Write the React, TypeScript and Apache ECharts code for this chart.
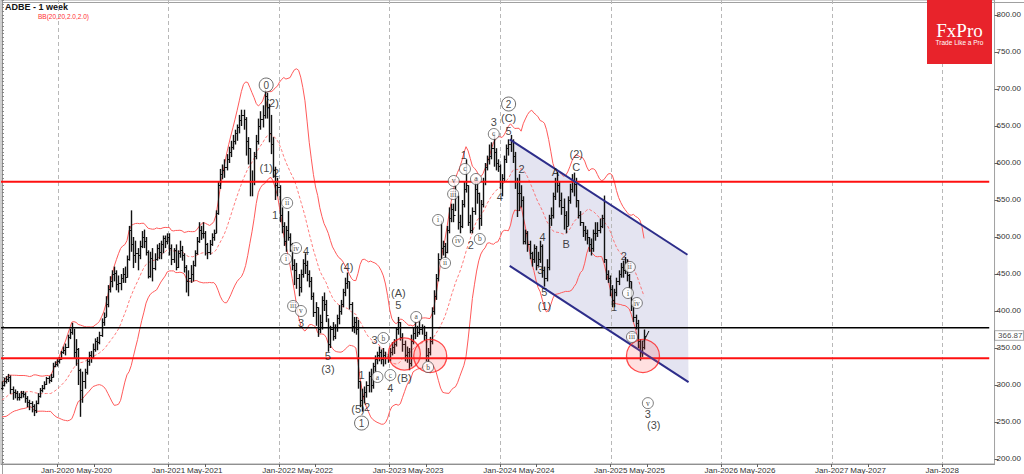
import React, { useEffect, useRef } from "react";
import * as echarts from "echarts";

// ---------- data ----------
const firstBarDate = Date.UTC(2019, 6, 1); // Monday of first weekly bar
const firstOpen = 296;
// closes of the 19 weeks before the first visible bar (only used for the BB(20) warm-up)
const warmupCloses = [265, 268, 262, 270, 272, 275, 278, 276, 280, 283, 278, 272, 270, 276, 285, 290, 296, 300, 298];

// weekly bars: [close, high, low]
const bars2019: number[][] = [
  [300, 305, 293], [306, 310, 298], [308, 312, 302], [311, 315, 304], [295, 313, 288], [290, 298, 280], [289, 294, 282],
  [284, 292, 279], [284, 289, 279], [289, 292, 282], [288, 292, 283], [282, 290, 276], [277, 285, 270], [276, 280, 266],
  [271, 278, 263], [266, 274, 258], [276, 279, 262], [285, 289, 274], [293, 296, 283], [296, 300, 290], [302, 305, 294],
  [309, 311, 300], [307, 312, 302], [311, 315, 304], [326, 330, 310], [329, 332, 324], [332, 335, 325],
];
const bars2020: number[][] = [
  [335, 338, 329], [344, 346, 334], [347, 352, 342], [351, 356, 340], [365, 368, 350], [372, 376, 362], [378, 384, 368],
  [345, 376, 336], [348, 362, 326], [320, 350, 300], [293, 322, 257], [305, 318, 276], [318, 322, 295], [332, 336, 314],
  [340, 345, 326], [338, 346, 330], [348, 356, 336], [360, 363, 345], [358, 365, 347], [368, 372, 355], [385, 390, 365],
  [392, 398, 380], [410, 420, 392], [430, 435, 405], [440, 447, 425], [450, 455, 432], [452, 460, 440], [436, 455, 428],
  [438, 448, 425], [445, 450, 428], [450, 458, 438], [446, 460, 438], [470, 475, 445], [510, 515, 468], [490, 536, 480],
  [475, 500, 458], [478, 495, 465], [475, 485, 455], [488, 495, 470], [500, 508, 485], [495, 510, 485], [480, 500, 475],
  [447, 482, 444], [472, 480, 445], [458, 485, 440], [470, 478, 455], [485, 490, 468], [480, 492, 470], [490, 495, 470],
  [498, 502, 478], [495, 502, 485], [500, 505, 490],
];
const bars2021: number[][] = [
  [485, 505, 475], [470, 490, 462], [482, 485, 465], [460, 490, 455], [478, 482, 458], [482, 495, 472], [475, 488, 468],
  [460, 478, 452], [440, 462, 425], [445, 455, 420], [450, 462, 438], [462, 468, 440], [478, 482, 460], [495, 500, 476],
  [510, 520, 492], [505, 515, 496], [505, 520, 498], [490, 508, 475], [480, 492, 470], [490, 496, 476], [500, 505, 488],
  [505, 510, 495], [532, 536, 505], [570, 575, 530], [585, 592, 565], [590, 598, 578], [595, 605, 580], [605, 612, 590],
  [615, 622, 600], [622, 630, 608], [630, 638, 618], [640, 645, 625], [648, 652, 630], [658, 665, 640], [665, 672, 650],
  [660, 672, 645], [630, 662, 610], [620, 635, 598], [575, 620, 555], [575, 590, 555], [610, 615, 570], [630, 638, 605],
  [650, 660, 625], [660, 670, 645], [665, 678, 648], [690, 699, 660], [675, 695, 660], [640, 680, 628], [625, 665, 612],
  [590, 635, 580], [570, 595, 550], [568, 580, 555],
];
const bars2022: number[][] = [
  [530, 570, 520], [515, 540, 505], [495, 520, 488], [510, 515, 480], [500, 535, 495], [490, 505, 480], [462, 492, 455],
  [455, 470, 435], [445, 465, 430], [432, 450, 420], [450, 456, 425], [465, 470, 445], [462, 478, 450], [450, 468, 440],
  [440, 455, 432], [420, 446, 415], [398, 425, 392], [405, 412, 380], [375, 405, 365], [385, 395, 370], [415, 420, 375],
  [410, 425, 400], [395, 415, 385], [355, 390, 345], [375, 380, 350], [366, 385, 360], [378, 382, 362], [390, 395, 372],
  [400, 408, 382], [410, 415, 395], [425, 430, 405], [438, 445, 420], [440, 452, 430], [410, 440, 402], [380, 412, 372],
  [385, 392, 370], [375, 392, 368], [305, 388, 295], [280, 305, 270], [285, 295, 264], [290, 298, 275], [300, 305, 283],
  [312, 318, 290], [300, 322, 290], [325, 330, 295], [335, 340, 318], [340, 345, 328], [345, 352, 332], [335, 348, 328],
  [340, 350, 325], [336, 345, 328], [338, 342, 330],
];
const bars2023: number[][] = [
  [345, 350, 332], [352, 358, 340], [355, 362, 342], [375, 378, 352], [385, 392, 368], [365, 385, 360], [355, 370, 345],
  [340, 360, 332], [345, 352, 330], [330, 350, 320], [360, 368, 325], [370, 378, 355], [378, 385, 362], [372, 380, 365],
  [375, 388, 368], [378, 382, 368], [368, 380, 360], [340, 372, 332], [345, 350, 331], [360, 365, 340], [400, 405, 355],
  [420, 428, 395], [445, 450, 415], [470, 478, 440], [485, 522, 470], [488, 495, 475], [480, 492, 472], [510, 515, 478],
  [525, 540, 505], [538, 545, 520], [530, 545, 520], [555, 570, 535], [520, 556, 510], [515, 530, 505], [545, 550, 512],
  [565, 575, 540], [570, 605, 560], [520, 570, 515], [510, 530, 505], [535, 540, 505], [565, 575, 530], [560, 580, 545],
  [525, 560, 510], [545, 550, 515], [575, 580, 540], [595, 600, 570], [605, 610, 590], [610, 625, 598], [620, 628, 605],
  [615, 640, 595], [600, 620, 590], [596, 605, 588],
];
const bars2024: number[][] = [
  [575, 598, 565], [580, 585, 555], [605, 610, 575], [620, 625, 600], [625, 632, 610], [630, 638, 615], [610, 632, 600],
  [575, 615, 565], [560, 580, 527], [560, 585, 535], [550, 570, 540], [495, 555, 490], [505, 510, 490], [490, 508, 480],
  [478, 495, 470], [470, 480, 460], [485, 490, 465], [462, 488, 455], [470, 480, 460], [488, 495, 465], [455, 490, 445],
  [445, 460, 433], [460, 470, 440], [525, 530, 455], [530, 540, 515], [555, 560, 525], [575, 580, 550], [570, 588, 560],
  [550, 575, 540], [540, 560, 530], [530, 552, 510], [515, 535, 505], [550, 555, 515], [565, 572, 545], [575, 585, 560],
  [572, 587, 555], [550, 580, 540], [530, 550, 525], [520, 535, 515], [510, 520, 500], [505, 515, 495], [500, 510, 490],
  [490, 500, 480], [485, 498, 475], [505, 510, 480], [505, 520, 495], [510, 520, 500], [515, 525, 505], [525, 530, 512],
  [470, 556, 465], [450, 470, 442], [445, 455, 438],
];
const bars2025: number[][] = [
  [430, 448, 420], [415, 435, 405], [425, 430, 405], [440, 445, 420], [450, 455, 435], [460, 465, 445], [455, 468, 445],
  [465, 473, 450], [448, 470, 440], [440, 450, 430], [410, 440, 400], [392, 415, 385], [384, 395, 375], [360, 388, 350],
  [345, 362, 333], [352, 360, 338], [366.87, 375, 348],
];

const xTickLabels = [
  "Jan-2020", "May-2020", "Jan-2021", "May-2021", "Jan-2022", "May-2022", "Jan-2023", "May-2023", "Jan-2024",
  "May-2024", "Jan-2025", "May-2025", "Jan-2026", "May-2026", "Jan-2027", "May-2027", "Jan-2028",
];
const yTickValues = [200, 250, 300, 350, 400, 450, 500, 550, 600, 650, 700, 750, 800];
const redLevels = [574.5, 336];
const blackLevel = 377.5;
const lastPrice = 366.87;

// trend channel (week index, price)
const channelUpper = [[239.6, 632], [323.5, 476]];
const channelLower = [[239.6, 461], [324, 304]];
// highlighted zones: [week index, price, diameter]
const highlightCircles = [[189.9, 341.9, 32], [202.1, 339.2, 33], [302.5, 339.2, 33]];
// small arrow after the last bar: [week index, price]
const lastArrow = [[302.9, 359], [305.3, 373]];

// wave labels: [text, week index, price]
const plainLabels: [string, number, number][] = [
  ["(2)", 127.5, 681], ["(1)", 124.7, 593], ["2", 129.4, 586.5], ["1", 128.9, 529.7], ["4", 143.5, 481],
  ["3", 141.1, 383.8], ["(4)", 162.7, 459.5], ["5", 153.8, 339.2], ["(3)", 153.8, 321.6], ["(A)", 187.1, 424.3],
  ["5", 187.1, 408.1], ["3", 175.8, 360.8], ["1", 169.7, 313.5], ["4", 183.3, 296], ["(B)", 189.9, 309.5],
  ["(5)", 168.0, 267.6], ["2", 172.3, 270.5], ["2", 221.3, 489.2], ["1", 218, 610.8], ["(C)", 239.1, 660.8],
  ["5", 239.1, 643.3], ["3", 232.1, 655.4], ["4", 234.9, 554.1], ["2", 245.2, 591.9], ["4", 255.1, 500],
  ["3", 254.1, 455.4], ["5", 256, 425.7], ["(1)", 256, 406.8], ["A", 261.2, 587.9], ["B", 266.3, 490.5],
  ["(2)", 271, 612.2], ["C", 271, 594.6], ["2", 293.5, 474.3], ["1", 288.8, 405.4], ["3", 304.8, 261],
  ["(3)", 307.6, 246],
];
const circledLabels: [string, number, number][] = [
  ["ii", 134.6, 546], ["i", 134.1, 470.3], ["iv", 138.8, 485.1], ["iii", 137.4, 406.8], ["v", 141.1, 400],
  ["b", 180, 363.5], ["a", 177.2, 310.8], ["c", 183.3, 313.5], ["a", 195.5, 391.9], ["b", 201.1, 324.3],
  ["i", 205.8, 523], ["ii", 209.1, 464.9], ["iii", 212.9, 558.1], ["iv", 215.2, 494.6], ["b", 225.5, 497.3],
  ["c", 218.5, 591.9], ["a", 223.7, 578.4], ["v", 213.2, 575.7], ["c", 232.1, 639.2], ["ii", 296.3, 459.5],
  ["i", 295.4, 424.3], ["iv", 299.6, 410.8], ["iii", 297.3, 364.9], ["v", 304.8, 275.5],
];
const bigCircledLabels: [string, number, number][] = [
  ["0", 124.7, 705.4], ["1", 169.7, 248.6], ["2", 239.1, 679.7],
];

// ---------- helpers ----------
const DAY = 86400000;
const MONTHS = ["Jan", "Feb", "Mar", "Apr", "May", "Jun", "Jul", "Aug", "Sep", "Oct", "Nov", "Dec"];
const weekIndexOf = (label: string) => {
  const [m, y] = label.split("-");
  return (Date.UTC(Number(y), MONTHS.indexOf(m), 1) - firstBarDate) / (7 * DAY);
};

const X_MIN = -0.436;
const X_MAX = 468.39;
const Y_MIN = 193.24;
const Y_MAX = 820.27;

export default function App() {
  const ref = useRef<HTMLDivElement>(null);

  useEffect(() => {
    document.body.style.margin = "0";
    const chart = echarts.init(ref.current!, null, { renderer: "svg" });

    const bars = [...bars2019, ...bars2020, ...bars2021, ...bars2022, ...bars2023, ...bars2024, ...bars2025];
    const closes = bars.map((b) => b[0]);
    const ohlc = bars.map((b, i) => [i, i === 0 ? firstOpen : closes[i - 1], b[0], b[2], b[1]]);

    // Bollinger Bands (20, 2.0) on weekly closes
    const all = [...warmupCloses, ...closes];
    const off = warmupCloses.length;
    const upper: number[][] = [], middle: number[][] = [], lower: number[][] = [];
    closes.forEach((_, i) => {
      const j = i + off;
      const win = all.slice(Math.max(0, j - 19), j + 1);
      const mean = win.reduce((a, v) => a + v, 0) / win.length;
      const sd = Math.sqrt(win.reduce((a, v) => a + (v - mean) * (v - mean), 0) / win.length);
      upper.push([i, mean + 2 * sd]);
      middle.push([i, mean]);
      lower.push([i, mean - 2 * sd]);
    });

    const xTicks = xTickLabels.map(weekIndexOf);
    const janTicks = xTickLabels.filter((l) => l.startsWith("Jan")).map(weekIndexOf);
    const minorY: number[] = [];
    for (let v = 195; v <= 820; v += 5) minorY.push(v);

    const txt = "Liberation Sans";
    const hline = (v: number, color: string, width: number, name: string) => ({
      type: "line", name, data: [[X_MIN, v], [X_MAX - 2.5, v]], showSymbol: false, symbol: "none",
      lineStyle: { color, width }, silent: true, z: 6, animation: false,
    });

    chart.setOption({
      animation: false,
      grid: { left: 1, right: 23, top: 0, bottom: 10, show: true, borderColor: "#a0a0a0", borderWidth: 1 },
      xAxis: {
        type: "value", min: X_MIN, max: X_MAX,
        axisLine: { show: true, onZero: false, lineStyle: { color: "#909090" } },
        axisTick: { show: true, customValues: xTicks, length: 3, lineStyle: { color: "#606060" } },
        axisLabel: {
          customValues: xTicks, fontSize: 8, color: "#333", fontFamily: txt, margin: 2,
          formatter: (v: number) => {
            let best = 0;
            xTicks.forEach((t, i) => { if (Math.abs(t - v) < Math.abs(xTicks[best] - v)) best = i; });
            return xTickLabels[best];
          },
        },
        splitLine: { show: false },
      },
      yAxis: [
        {
          type: "value", position: "right", min: Y_MIN, max: Y_MAX, scale: true,
          axisLine: { show: true, lineStyle: { color: "#909090" } },
          axisTick: { show: true, customValues: minorY, length: 2, lineStyle: { color: "#808080" } },
          axisLabel: { show: false },
          splitLine: { show: false },
        },
        {
          type: "value", position: "right", min: Y_MIN, max: Y_MAX, scale: true,
          axisLine: { show: false },
          axisTick: { show: true, customValues: yTickValues, length: 4, lineStyle: { color: "#606060" } },
          axisLabel: {
            customValues: yTickValues, fontSize: 8, color: "#333", fontFamily: txt, margin: 2,
            formatter: (v: number) => v.toFixed(2),
          },
          splitLine: { show: false },
        },
      ],
      graphic: [
        { type: "rect", left: 0, top: 0, shape: { width: 1023, height: 473 }, style: { fill: "none", stroke: "#a0a0a0", lineWidth: 1 }, silent: true },
        { type: "text", left: 5, top: 2, style: { text: "ADBE - 1 week", fontSize: 9, fontWeight: "bold", fill: "#111", fontFamily: txt } },
        { type: "text", left: 38, top: 13, style: { text: "BB(20,20,2.0,2.0)", fontSize: 6.5, fill: "#ff3030", fontFamily: txt } },
        { type: "rect", left: 927, top: 0, shape: { width: 65, height: 64 }, style: { fill: "#e8232b" }, z: 100 },
        { type: "text", x: 959.5, y: 30, style: { text: "FxPro", fontSize: 19, fill: "#fff", fontFamily: "Liberation Serif", align: "center", verticalAlign: "middle" }, z: 101 },
        { type: "text", x: 959.5, y: 42.5, style: { text: "Trade Like a Pro", fontSize: 6.5, fill: "#fff", fontFamily: txt, align: "center", verticalAlign: "middle" }, z: 101 },
      ],
      series: [
        {
          type: "custom", name: "channelFill", data: [[channelUpper[0][0], channelUpper[0][1]]], silent: true, z: 1,
          renderItem: (_p: any, api: any) => {
            const pts = [channelUpper[0], channelUpper[1], channelLower[1], channelLower[0]].map((q) => api.coord(q));
            return { type: "polygon", shape: { points: pts }, style: { fill: "#e4e4f1" } };
          },
        },
        {
          type: "custom", name: "janGrid", data: janTicks.map((k) => [k, Y_MAX]), silent: true, z: 2,
          renderItem: (params: any, api: any) => {
            const p = api.coord([api.value(0), Y_MAX]);
            const cs = params.coordSys;
            return {
              type: "line", shape: { x1: Math.round(p[0]) + 0.5, y1: cs.y, x2: Math.round(p[0]) + 0.5, y2: cs.y + cs.height },
              style: { stroke: "#b8b8b8", lineWidth: 1, lineDash: [4, 3] },
            };
          },
        },
        { type: "line", name: "BB upper", data: upper, showSymbol: false, symbol: "none", lineStyle: { color: "#ff5a5a", width: 1 }, z: 3, silent: true },
        { type: "line", name: "BB middle", data: middle, showSymbol: false, symbol: "none", lineStyle: { color: "#ff5a5a", width: 0.8, type: [3, 2] }, z: 3, silent: true },
        { type: "line", name: "BB lower", data: lower, showSymbol: false, symbol: "none", lineStyle: { color: "#ff5a5a", width: 1 }, z: 3, silent: true },
        {
          type: "custom", name: "ADBE", data: ohlc, encode: { x: 0, y: [1, 2, 3, 4] }, z: 4,
          renderItem: (_p: any, api: any) => {
            const x = api.value(0);
            const o = api.coord([x, api.value(1)]);
            const c = api.coord([x, api.value(2)]);
            const l = api.coord([x, api.value(3)]);
            const h = api.coord([x, api.value(4)]);
            const px = Math.round(h[0]) + 0.5;
            const st = { stroke: "#111", lineWidth: 1.4 };
            const tk = { stroke: "#111", lineWidth: 1 };
            return {
              type: "group",
              children: [
                { type: "line", shape: { x1: px, y1: h[1], x2: px, y2: l[1] }, style: st },
                { type: "line", shape: { x1: px - 1.5, y1: Math.round(o[1]) + 0.5, x2: px, y2: Math.round(o[1]) + 0.5 }, style: tk },
                { type: "line", shape: { x1: px, y1: Math.round(c[1]) + 0.5, x2: px + 1.5, y2: Math.round(c[1]) + 0.5 }, style: tk },
              ],
            };
          },
        },
        hline(redLevels[0], "#ff1010", 2, "res1"),
        hline(redLevels[1], "#ff1010", 2, "res2"),
        hline(blackLevel, "#000", 1.5, "pivot"),
        {
          type: "scatter", name: "lastPrice", data: [{ value: [X_MAX, lastPrice], name: lastPrice.toFixed(2) }],
          symbolSize: 1, itemStyle: { color: "transparent" }, clip: false, z: 20, silent: true,
          label: {
            show: true, position: "right", distance: 0, formatter: "{b}", fontSize: 8, color: "#111", fontFamily: txt,
            backgroundColor: "#fff", borderColor: "#555", borderWidth: 0.6, padding: [1, 1, 0, 3],
          },
        },
        {
          type: "line", name: "arrow", data: lastArrow, showSymbol: false, symbol: ["none", "arrow"], symbolSize: 6,
          lineStyle: { color: "#111", width: 1 }, itemStyle: { color: "#111" }, z: 9, silent: true,
        },
        { type: "line", name: "channelUpper", data: channelUpper, showSymbol: false, symbol: "none", lineStyle: { color: "#2d2d8a", width: 2 }, z: 7, silent: true },
        { type: "line", name: "channelLower", data: channelLower, showSymbol: false, symbol: "none", lineStyle: { color: "#2d2d8a", width: 2 }, z: 7, silent: true },
        {
          type: "scatter", name: "zones", data: highlightCircles.map((c) => ({ value: [c[0], c[1]], symbolSize: c[2] })),
          itemStyle: { color: "rgba(255,80,80,0.22)", borderColor: "#ff2020", borderWidth: 1.3 }, z: 8, silent: true,
        },
        {
          type: "scatter", name: "waves", data: plainLabels.map((l) => ({ name: l[0], value: [l[1], l[2]] })),
          symbolSize: 1, itemStyle: { color: "transparent" }, z: 9, silent: true,
          label: { show: true, position: "inside", formatter: "{b}", fontSize: 11, color: "#111", fontFamily: txt },
        },
        {
          type: "scatter", name: "wavesCircled", data: circledLabels.map((l) => ({ name: l[0], value: [l[1], l[2]] })),
          symbol: "circle", symbolSize: 11, itemStyle: { color: "#fff", borderColor: "#333", borderWidth: 0.8 }, z: 9, silent: true,
          label: { show: true, position: "inside", formatter: "{b}", fontSize: 7.5, color: "#111", fontFamily: "Liberation Serif" },
        },
        {
          type: "scatter", name: "wavesCircledBig", data: bigCircledLabels.map((l) => ({ name: l[0], value: [l[1], l[2]] })),
          symbol: "circle", symbolSize: 14, itemStyle: { color: "#fff", borderColor: "#333", borderWidth: 0.9 }, z: 9, silent: true,
          label: { show: true, position: "inside", formatter: "{b}", fontSize: 10, color: "#111", fontFamily: txt },
        },
      ],
    });

    return () => chart.dispose();
  }, []);

  return <div ref={ref} style={{ position: "absolute", left: 0, top: 0, width: 1024, height: 474, background: "#fff" }} />;
}
